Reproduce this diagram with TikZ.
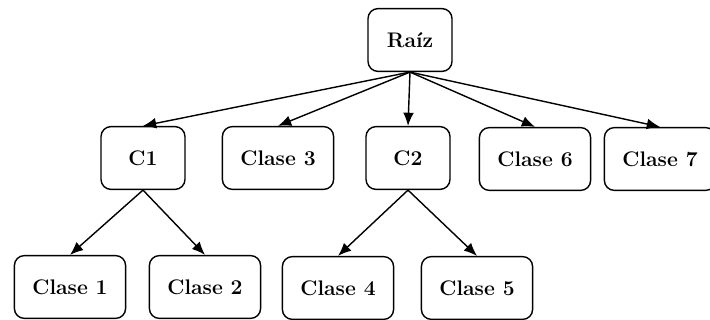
\documentclass[tikz,border=0pt]{standalone}
\usetikzlibrary{arrows.meta}
\begin{document}
\begin{tikzpicture}[
        caja/.style={draw, rounded corners=0.25cm, line width=1pt, minimum width=2.1cm,
            minimum height=1.57cm, inner xsep=0.45cm, font=\fontsize{15}{18}\selectfont\bfseries},
        flecha/.style={-{Latex[length=3.3mm,width=2.7mm]}, line width=1pt}]
            \useasboundingbox (0,0) rectangle (17.75,8);

            % Raíz
            \node[caja] (raiz) at (10.25,7.0) {Raíz};

            % Segundo nivel
            \node[caja] (c1) at (3.575,4.05) {C1};
            \node[caja] (clase3) at (6.95,4.05) {Clase 3};
            \node[caja] (c2) at (10.2,4.05) {C2};
            \node[caja] (clase6) at (13.375,4.025) {Clase 6};
            \node[caja] (clase7) at (16.5,4.025) {Clase 7};

            % Hojas
            \node[caja] (clase1) at (1.75,0.825) {Clase 1};
            \node[caja] (clase2) at (5.125,0.825) {Clase 2};
            \node[caja] (clase4) at (8.45,0.8) {Clase 4};
            \node[caja] (clase5) at (11.925,0.8) {Clase 5};

            % Flechas
            \foreach \hijo in {c1,clase3,c2,clase6,clase7}
                \draw[flecha] (raiz.south) -- (\hijo.north);
            \draw[flecha] (c1.south) -- (clase1.north);
            \draw[flecha] (c1.south) -- (clase2.north);
            \draw[flecha] (c2.south) -- (clase4.north);
            \draw[flecha] (c2.south) -- (clase5.north);
        \end{tikzpicture}
\end{document}
